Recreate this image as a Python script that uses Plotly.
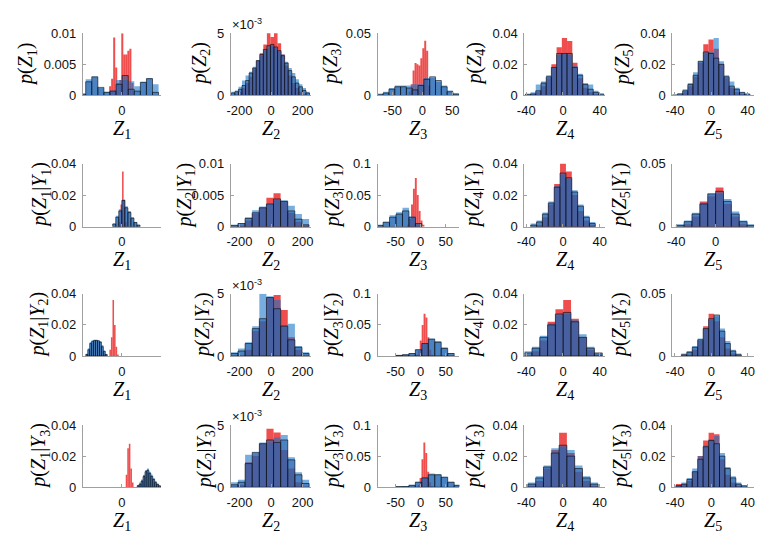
import plotly.graph_objects as go

W, H = 760, 538

# ------------------------------------------------------------------ data
# Row 1 : p(Z_k)
r1c1_red_x = [-3.0, -2.48, -1.96, -1.44, -0.92, -0.4, 0.12, 0.64, 1.16, 1.68, 2.2, 2.72]
r1c1_red_y = [0.0015, 0.0027, 0.0093, 0.0045, 0.0020, 0.0025, 0.0100, 0.0066, 0.0066, 0.0072, 0.0075, 0.0020]
r1c1_blue_x = [-10.06, -8.5, -6.94, -5.38, -3.82, -2.26, -0.7, 0.86, 2.42, 3.98, 5.54, 7.1, 8.66]
r1c1_light_y = [0.0003, 0.0026, 0.0030, 0.0012, 0.0006, 0.0008, 0.0025, 0.0025, 0.0023, 0.0015, 0.0022, 0.0028, 0.0018]
r1c1_dark_y = [0.0002, 0.0022, 0.0030, 0.0013, 0.0005, 0.0007, 0.0018, 0.0032, 0.0010, 0.0007, 0.0021, 0.0027, 0.0005]

r1c2_x = [-240, -217.5, -195, -172.5, -150, -127.5, -105, -82.5, -60, -37.5, -15, 7.5,
          30, 52.5, 75, 97.5, 120, 142.5, 165, 187.5, 210, 232.5]
r1c2_red_y = [0.0000, 0.0001, 0.0003, 0.0006, 0.0010, 0.0015, 0.0021, 0.0028, 0.0034, 0.0041, 0.0051,
              0.0047, 0.0051, 0.0042, 0.0033, 0.0024, 0.0016, 0.0010, 0.0006, 0.0003, 0.0001, 0.0000]
r1c2_light_y = [0.0003, 0.0004, 0.0007, 0.0012, 0.0016, 0.0019, 0.0023, 0.0028, 0.0032, 0.0036, 0.0038,
                0.0040, 0.0038, 0.0035, 0.0033, 0.0027, 0.0022, 0.0018, 0.0013, 0.0009, 0.0006, 0.0003]
r1c2_dark_y = [0.0002, 0.0003, 0.0005, 0.0008, 0.0012, 0.0018, 0.0022, 0.0028, 0.0033, 0.0037, 0.0040,
               0.0041, 0.0039, 0.0036, 0.0032, 0.0026, 0.0020, 0.0015, 0.0010, 0.0007, 0.0004, 0.0002]

r1c3_red_x = [-21.2, -17.9, -14.7, -11.4, -8.2, -4.9, -1.7, 1.6, 4.8, 8.1, 11.3]
r1c3_red_y = [0.003, 0.009, 0.020, 0.026, 0.025, 0.024, 0.030, 0.038, 0.044, 0.036, 0.008]
r1c3_blue_x = [-70.6, -60.8, -51.1, -41.3, -31.6, -21.8, -12.1, -2.3, 7.4, 17.2, 26.9, 36.7, 46.4, 56.2]
r1c3_light_y = [0.001, 0.003, 0.006, 0.008, 0.008, 0.008, 0.009, 0.009, 0.014, 0.014, 0.011, 0.008, 0.004, 0.002]
r1c3_dark_y = [0.001, 0.002, 0.005, 0.007, 0.007, 0.006, 0.0045, 0.008, 0.013, 0.015, 0.012, 0.007, 0.003, 0.001]

r1c4_x = [-38.2, -32.5, -26.8, -21.1, -15.4, -9.8, -4.1, 1.6, 7.3, 13.0, 18.7, 24.4, 30.1, 35.8, 41.5]
r1c4_red_y = [0.0, 0.001, 0.002, 0.006, 0.011, 0.020, 0.031, 0.037, 0.035, 0.021, 0.011, 0.005, 0.002, 0.001, 0.0]
r1c4_light_y = [0.001, 0.002, 0.007, 0.009, 0.013, 0.018, 0.026, 0.027, 0.026, 0.019, 0.014, 0.008, 0.007, 0.003, 0.001]
r1c4_dark_y = [0.0008, 0.001, 0.003, 0.008, 0.012, 0.018, 0.027, 0.027, 0.027, 0.018, 0.013, 0.007, 0.004, 0.002, 0.001]

r1c5_x = [-40.1, -34.4, -28.7, -23.0, -17.3, -11.7, -6.0, -0.3, 5.4, 11.1, 16.8, 22.5, 28.2, 33.9, 39.6]
r1c5_red_y = [0.0, 0.0005, 0.002, 0.006, 0.012, 0.021, 0.033, 0.036, 0.030, 0.020, 0.011, 0.005, 0.002, 0.001, 0.0]
r1c5_light_y = [0.0005, 0.0015, 0.004, 0.008, 0.015, 0.022, 0.027, 0.028, 0.037, 0.022, 0.013, 0.009, 0.005, 0.002, 0.001]
r1c5_dark_y = [0.0003, 0.001, 0.003, 0.007, 0.013, 0.022, 0.028, 0.027, 0.024, 0.020, 0.012, 0.006, 0.004, 0.002, 0.001]

# Row 2 : p(Z_k | Y_1)
r2c1_red_x = [-0.54, -0.14, 0.26, 0.66, 1.06]
r2c1_red_y = [0.003, 0.014, 0.035, 0.017, 0.003]
r2c1_blue_x = [-1.95, -1.17, -0.39, 0.39, 1.17, 1.95, 2.73, 3.51, 4.29]
r2c1_light_y = [0.002, 0.007, 0.011, 0.017, 0.013, 0.010, 0.006, 0.003, 0.0012]
r2c1_dark_y = [0.0017, 0.006, 0.010, 0.0166, 0.012, 0.009, 0.0054, 0.0027, 0.001]

r2c2_x = [-232, -187, -142, -97, -52, -7, 38, 83, 128, 173, 218]
r2c2_red_y = [0.0000, 0.0002, 0.0010, 0.0020, 0.0030, 0.0046, 0.0053, 0.0040, 0.0022, 0.0008, 0.0002]
r2c2_light_y = [0.0003, 0.0006, 0.0015, 0.0026, 0.0032, 0.0036, 0.0042, 0.0042, 0.0033, 0.0020, 0.0012]
r2c2_dark_y = [0.0002, 0.0005, 0.0013, 0.0022, 0.0030, 0.0036, 0.0044, 0.0040, 0.0025, 0.0012, 0.0003]

r2c3_red_x = [-25.0, -21.2, -17.4, -13.6, -9.8, -6.0, -2.2, 1.6, 5.4]
r2c3_red_y = [0.003, 0.012, 0.035, 0.060, 0.077, 0.050, 0.025, 0.010, 0.003]
r2c3_blue_x = [-81.5, -68.6, -55.7, -42.8, -29.9, -17.0, -4.1]
r2c3_light_y = [0.003, 0.008, 0.018, 0.023, 0.030, 0.016, 0.004]
r2c3_dark_y = [0.002, 0.007, 0.015, 0.020, 0.025, 0.015, 0.005]

r2c4_x = [-32, -25.6, -19.2, -12.8, -6.4, 0, 6.4, 12.8, 19.2, 25.6, 32]
r2c4_red_y = [0.000, 0.001, 0.006, 0.014, 0.027, 0.040, 0.035, 0.020, 0.010, 0.004, 0.001]
r2c4_light_y = [0.002, 0.004, 0.009, 0.016, 0.026, 0.033, 0.030, 0.023, 0.014, 0.007, 0.003]
r2c4_dark_y = [0.001, 0.003, 0.008, 0.015, 0.025, 0.034, 0.031, 0.022, 0.013, 0.006, 0.002]

r2c5_x = [-36, -28, -20, -12, -4, 4, 12, 20, 28, 36]
r2c5_red_y = [0.000, 0.002, 0.008, 0.020, 0.024, 0.031, 0.018, 0.008, 0.002, 0.000]
r2c5_light_y = [0.002, 0.005, 0.011, 0.019, 0.026, 0.026, 0.022, 0.012, 0.005, 0.002]
r2c5_dark_y = [0.001, 0.004, 0.010, 0.018, 0.026, 0.028, 0.020, 0.010, 0.004, 0.001]

# Row 3 : p(Z_k | Y_2)
r3c1_red_x = [-3.0, -2.6, -2.2, -1.8, -1.4, -1.0]
r3c1_red_y = [0.004, 0.012, 0.036, 0.020, 0.006, 0.001]
r3c1_blue_x = [-9.0, -8.5, -8.0, -7.5, -7.0, -6.5, -6.0, -5.5, -5.0, -4.5, -4.0]
r3c1_light_y = [0.0015, 0.005, 0.009, 0.010, 0.0105, 0.0105, 0.010, 0.0095, 0.007, 0.0035, 0.0012]
r3c1_dark_y = [0.001, 0.004, 0.008, 0.0095, 0.010, 0.010, 0.0098, 0.009, 0.006, 0.003, 0.001]

r3c2_x = [-231.5, -186.5, -141.5, -96.5, -51.5, -6.5, 38.5, 83.5, 128.5, 173.5, 218.5]
r3c2_red_y = [0.0000, 0.0000, 0.0005, 0.0020, 0.0028, 0.0047, 0.0049, 0.0037, 0.0015, 0.0005, 0.0000]
r3c2_light_y = [0.0003, 0.0006, 0.0011, 0.0024, 0.0050, 0.0048, 0.0045, 0.0025, 0.0026, 0.0008, 0.0003]
r3c2_dark_y = [0.0002, 0.0004, 0.0010, 0.0022, 0.0030, 0.0047, 0.0038, 0.0024, 0.0013, 0.0007, 0.0002]

r3c3_red_x = [-7.6, -3.8, 0.0, 3.8, 7.6, 11.4, 15.2, 19.0, 22.8]
r3c3_red_y = [0.002, 0.008, 0.025, 0.050, 0.068, 0.062, 0.030, 0.010, 0.002]
r3c3_blue_x = [-43.0, -30.1, -17.2, -4.3, 8.6, 21.5, 34.4, 47.3, 60.2]
r3c3_light_y = [0.0015, 0.003, 0.005, 0.011, 0.021, 0.028, 0.024, 0.014, 0.005]
r3c3_dark_y = [0.001, 0.002, 0.004, 0.010, 0.020, 0.027, 0.022, 0.012, 0.004]

r3c4_x = [-38, -29.5, -21, -12.5, -4, 4.5, 13, 21.5, 30, 38.5]
r3c4_red_y = [0.000, 0.003, 0.010, 0.022, 0.030, 0.036, 0.024, 0.012, 0.004, 0.001]
r3c4_light_y = [0.003, 0.006, 0.013, 0.021, 0.026, 0.027, 0.023, 0.014, 0.006, 0.002]
r3c4_dark_y = [0.002, 0.005, 0.012, 0.020, 0.027, 0.028, 0.022, 0.012, 0.005, 0.002]

r3c5_x = [-30, -24, -18, -12, -6, 0, 6, 12, 18, 24, 30]
r3c5_red_y = [0.000, 0.001, 0.005, 0.012, 0.024, 0.034, 0.028, 0.015, 0.006, 0.002, 0.000]
r3c5_light_y = [0.002, 0.004, 0.008, 0.014, 0.022, 0.029, 0.032, 0.022, 0.012, 0.005, 0.002]
r3c5_dark_y = [0.001, 0.003, 0.007, 0.013, 0.022, 0.030, 0.033, 0.020, 0.010, 0.004, 0.001]

# Row 4 : p(Z_k | Y_3)
r4c1_red_x = [1.2, 1.6, 2.0, 2.4, 2.8]
r4c1_red_y = [0.008, 0.025, 0.028, 0.012, 0.003]
r4c1_blue_x = [4.2, 4.7, 5.2, 5.7, 6.2, 6.7, 7.2, 7.7, 8.2, 8.7, 9.2, 9.7, 10.2]
r4c1_light_y = [0.0015, 0.003, 0.005, 0.008, 0.011, 0.012, 0.010, 0.008, 0.006, 0.004, 0.002, 0.001, 0.0005]
r4c1_dark_y = [0.001, 0.002, 0.004, 0.007, 0.010, 0.011, 0.009, 0.007, 0.005, 0.003, 0.002, 0.001, 0.0005]

r4c2_x = [-231.5, -186.5, -141.5, -96.5, -51.5, -6.5, 38.5, 83.5, 128.5, 173.5, 218.5]
r4c2_red_y = [0.0000, 0.0002, 0.0020, 0.0025, 0.0035, 0.0047, 0.0044, 0.0030, 0.0015, 0.0004, 0.0000]
r4c2_light_y = [0.0004, 0.0006, 0.0026, 0.0028, 0.0036, 0.0036, 0.0040, 0.0042, 0.0024, 0.0012, 0.0006]
r4c2_dark_y = [0.0002, 0.0004, 0.0019, 0.0028, 0.0035, 0.0038, 0.0036, 0.0038, 0.0022, 0.0010, 0.0003]

r4c3_red_x = [-4.2, -0.4, 3.4, 7.2, 11.0, 14.8, 18.6, 22.4]
r4c3_red_y = [0.004, 0.015, 0.045, 0.072, 0.055, 0.025, 0.008, 0.002]
r4c3_blue_x = [-43.0, -30.1, -17.2, -4.3, 8.6, 21.5, 34.4, 47.3, 60.2, 73.1]
r4c3_light_y = [0.001, 0.002, 0.004, 0.009, 0.016, 0.022, 0.021, 0.017, 0.009, 0.004]
r4c3_dark_y = [0.001, 0.001, 0.003, 0.008, 0.015, 0.020, 0.020, 0.016, 0.008, 0.003]

r4c4_x = [-34, -25.5, -17, -8.5, 0, 8.5, 17, 25.5, 34]
r4c4_red_y = [0.001, 0.004, 0.012, 0.024, 0.035, 0.022, 0.010, 0.004, 0.001]
r4c4_light_y = [0.003, 0.007, 0.014, 0.025, 0.026, 0.024, 0.014, 0.007, 0.003]
r4c4_dark_y = [0.002, 0.006, 0.013, 0.022, 0.027, 0.020, 0.012, 0.006, 0.002]

r4c5_x = [-36, -30, -24, -18, -12, -6, 0, 6, 12, 18, 24, 30, 36]
r4c5_red_y = [0.002, 0.002, 0.004, 0.010, 0.020, 0.030, 0.035, 0.034, 0.018, 0.008, 0.003, 0.001, 0.000]
r4c5_light_y = [0.001, 0.003, 0.006, 0.012, 0.020, 0.027, 0.031, 0.033, 0.022, 0.013, 0.007, 0.003, 0.001]
r4c5_dark_y = [0.001, 0.002, 0.005, 0.010, 0.018, 0.026, 0.030, 0.028, 0.020, 0.012, 0.006, 0.002, 0.001]

# axis labels
y_titles = [
    ["p(Z1)", "p(Z2)", "p(Z3)", "p(Z4)", "p(Z5)"],
    ["p(Z1|Y1)", "p(Z2|Y1)", "p(Z3|Y1)", "p(Z4|Y1)", "p(Z5|Y1)"],
    ["p(Z1|Y2)", "p(Z2|Y2)", "p(Z3|Y2)", "p(Z4|Y2)", "p(Z5|Y2)"],
    ["p(Z1|Y3)", "p(Z2|Y3)", "p(Z3|Y3)", "p(Z4|Y3)", "p(Z5|Y3)"],
]
x_titles = ["Z1", "Z2", "Z3", "Z4", "Z5"]
x_ticks = [[0], [-200, 0, 200], [-50, 0, 50], [-40, 0, 40], [-40, 0, 40]]

x_ranges = [
    [[-10, 10], [-255, 250], [-75, 62], [-42, 46], [-43, 47]],
    [[-10, 10], [-255, 250], [-86, 77], [-42, 46], [-44, 39]],
    [[-10, 10], [-255, 250], [-86, 77], [-42, 46], [-43, 47]],
    [[-10, 10], [-255, 250], [-86, 77], [-42, 46], [-43, 47]],
]
y_max = [
    [0.01, 0.005, 0.05, 0.04, 0.04],
    [0.04, 0.01, 0.1, 0.04, 0.05],
    [0.04, 0.005, 0.1, 0.04, 0.05],
    [0.04, 0.005, 0.1, 0.04, 0.04],
]
y_tick_vals = {
    0.01: [0, 0.005, 0.01], 0.04: [0, 0.02, 0.04], 0.05: [0, 0.05], 0.1: [0, 0.05, 0.1],
}
y_tick_text = {
    0.01: ["0", "0.005", "0.01"], 0.04: ["0", "0.02", "0.04"], 0.05: ["0", "0.05"],
    0.1: ["0", "0.05", "0.1"],
}
scaled_panels = [(0, 1), (2, 1), (3, 1)]  # shown with x10^-3 exponent

panels = [
    [(r1c1_red_x, r1c1_red_y, r1c1_blue_x, r1c1_light_y, r1c1_dark_y),
     (r1c2_x, r1c2_red_y, r1c2_x, r1c2_light_y, r1c2_dark_y),
     (r1c3_red_x, r1c3_red_y, r1c3_blue_x, r1c3_light_y, r1c3_dark_y),
     (r1c4_x, r1c4_red_y, r1c4_x, r1c4_light_y, r1c4_dark_y),
     (r1c5_x, r1c5_red_y, r1c5_x, r1c5_light_y, r1c5_dark_y)],
    [(r2c1_red_x, r2c1_red_y, r2c1_blue_x, r2c1_light_y, r2c1_dark_y),
     (r2c2_x, r2c2_red_y, r2c2_x, r2c2_light_y, r2c2_dark_y),
     (r2c3_red_x, r2c3_red_y, r2c3_blue_x, r2c3_light_y, r2c3_dark_y),
     (r2c4_x, r2c4_red_y, r2c4_x, r2c4_light_y, r2c4_dark_y),
     (r2c5_x, r2c5_red_y, r2c5_x, r2c5_light_y, r2c5_dark_y)],
    [(r3c1_red_x, r3c1_red_y, r3c1_blue_x, r3c1_light_y, r3c1_dark_y),
     (r3c2_x, r3c2_red_y, r3c2_x, r3c2_light_y, r3c2_dark_y),
     (r3c3_red_x, r3c3_red_y, r3c3_blue_x, r3c3_light_y, r3c3_dark_y),
     (r3c4_x, r3c4_red_y, r3c4_x, r3c4_light_y, r3c4_dark_y),
     (r3c5_x, r3c5_red_y, r3c5_x, r3c5_light_y, r3c5_dark_y)],
    [(r4c1_red_x, r4c1_red_y, r4c1_blue_x, r4c1_light_y, r4c1_dark_y),
     (r4c2_x, r4c2_red_y, r4c2_x, r4c2_light_y, r4c2_dark_y),
     (r4c3_red_x, r4c3_red_y, r4c3_blue_x, r4c3_light_y, r4c3_dark_y),
     (r4c4_x, r4c4_red_y, r4c4_x, r4c4_light_y, r4c4_dark_y),
     (r4c5_x, r4c5_red_y, r4c5_x, r4c5_light_y, r4c5_dark_y)],
]

# ------------------------------------------------------------------ style / geometry
RED = "rgba(232,10,10,0.72)"
LIGHT = "rgba(20,115,200,0.58)"
DARK = "rgba(40,95,170,0.55)"
EDGE = "rgba(0,0,0,0.8)"
AXIS_GRAY = "#a0a0a0"
TICK_FONT = dict(family="Liberation Sans, Arial, sans-serif", size=13, color="#111111")
MATH_FONT = dict(family="Liberation Serif, Times New Roman, serif", size=20, color="#000000")

col_left = [76, 226, 375, 524, 674]
col_right = [155, 307, 458, 606, 757]
row_top = [27, 161, 295, 430]
row_bot = [91, 226, 359, 494]
ytitle_x = [
    [19, 195, 328, 474, 624],
    [33, 180, 330, 472, 621],
    [31, 199, 330, 473, 622],
    [32, 200, 330, 473, 622],
]


def math_label(s):
    """p(Z1|Y2) -> italic letters, subscripted digits."""
    out = ""
    for ch in s:
        if ch.isalpha():
            out += "<i>" + ch + "</i>"
        elif ch.isdigit():
            out += "<sub>" + ch + "</sub>"
        else:
            out += ch
    return out


def tick_str(v):
    return ("-" + str(abs(v))) if v < 0 else str(v)


fig = go.Figure()
layout = dict(
    width=W, height=H, margin=dict(l=0, r=0, t=0, b=0),
    paper_bgcolor="white", plot_bgcolor="white",
    showlegend=False, barmode="overlay", annotations=[],
)

for r in range(4):
    for c in range(5):
        k = r * 5 + c + 1
        xa = "xaxis" if k == 1 else f"xaxis{k}"
        ya = "yaxis" if k == 1 else f"yaxis{k}"
        xr = "x" if k == 1 else f"x{k}"
        yr = "y" if k == 1 else f"y{k}"
        red_x, red_y, blue_x, light_y, dark_y = panels[r][c]
        rw = red_x[1] - red_x[0]
        bw = blue_x[1] - blue_x[0]
        fig.add_trace(go.Bar(x=red_x, y=red_y, width=rw, xaxis=xr, yaxis=yr,
                             marker=dict(color=RED, line=dict(width=0)), hoverinfo="skip"))
        fig.add_trace(go.Bar(x=blue_x, y=light_y, width=bw, xaxis=xr, yaxis=yr,
                             marker=dict(color=LIGHT, line=dict(width=0)), hoverinfo="skip"))
        fig.add_trace(go.Bar(x=blue_x, y=dark_y, width=bw, xaxis=xr, yaxis=yr,
                             marker=dict(color=DARK, line=dict(width=0.7, color=EDGE)),
                             hoverinfo="skip"))

        common = dict(showline=True, linecolor=AXIS_GRAY, linewidth=1, showgrid=False,
                      zeroline=False, ticks="inside", ticklen=3, tickcolor=AXIS_GRAY,
                      tickfont=TICK_FONT, fixedrange=True)
        layout[xa] = dict(common, domain=[col_left[c] / W, col_right[c] / W], anchor=yr,
                          range=x_ranges[r][c], tickmode="array", tickvals=x_ticks[c],
                          ticktext=[tick_str(v) for v in x_ticks[c]], ticklabelstandoff=3)
        ym = y_max[r][c]
        if (r, c) in scaled_panels:
            yv, yt = [0, 0.005], ["0", "5"]
        else:
            yv, yt = y_tick_vals[ym], y_tick_text[ym]
        layout[ya] = dict(common, domain=[1 - row_bot[r] / H, 1 - row_top[r] / H], anchor=xr,
                          range=[0, ym], tickmode="array", tickvals=yv, ticktext=yt,
                          ticklabelstandoff=3)

        # axis titles
        layout["annotations"].append(dict(
            xref="paper", yref="paper", x=ytitle_x[r][c] / W,
            y=1 - (row_top[r] + row_bot[r]) / 2 / H, text=math_label(y_titles[r][c]),
            textangle=-90, showarrow=False, xanchor="center", yanchor="middle", font=MATH_FONT))
        layout["annotations"].append(dict(
            xref="paper", yref="paper", x=(col_left[c] + col_right[c]) / 2 / W,
            y=1 - (row_bot[r] + 35) / H, text=math_label(x_titles[c]),
            showarrow=False, xanchor="center", yanchor="middle", font=MATH_FONT))
        if (r, c) in scaled_panels:
            layout["annotations"].append(dict(
                xref="paper", yref="paper", x=(col_left[c] - 1) / W, y=1 - (row_top[r] - 9) / H,
                text="×10<sup>-3</sup>", showarrow=False, xanchor="left", yanchor="middle",
                font=dict(family="Liberation Sans, Arial, sans-serif", size=13, color="#111111")))

fig.update_layout(**layout)
fig.write_html("out.html")
